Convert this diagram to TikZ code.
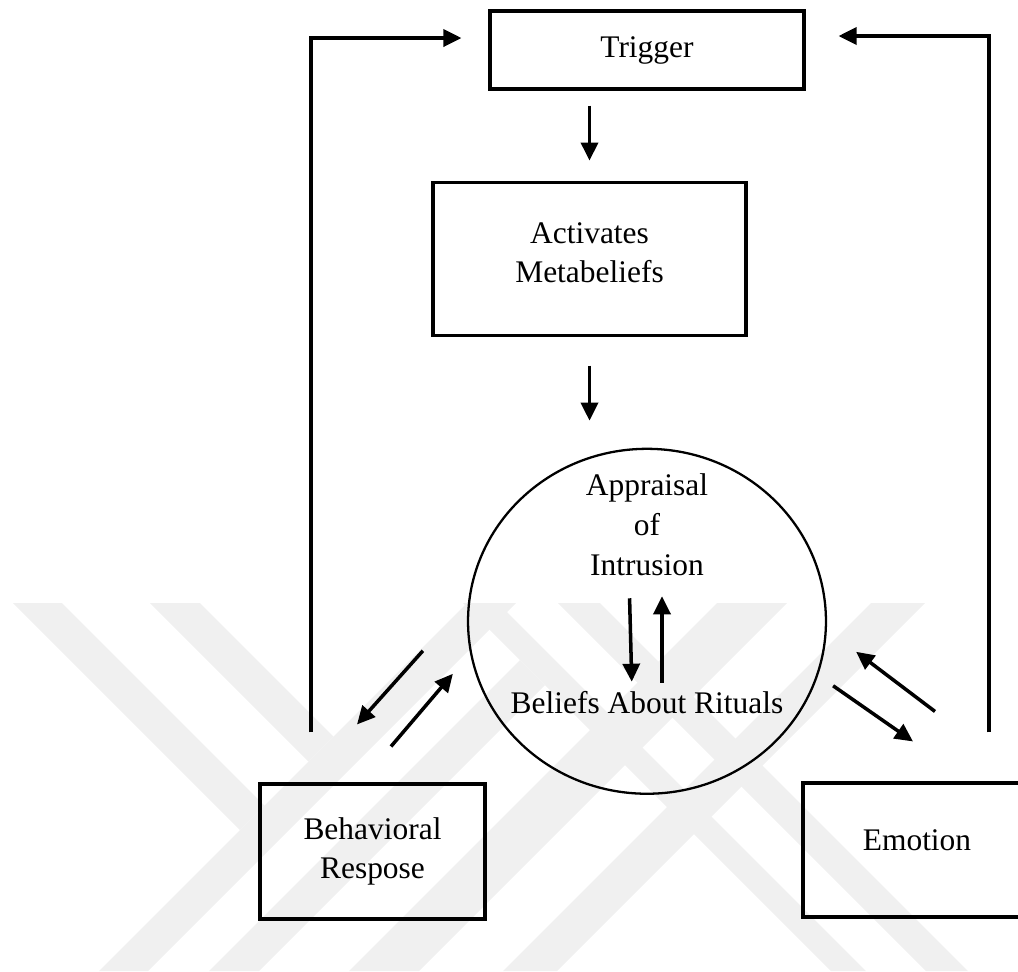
\documentclass[tikz,border=0pt]{standalone}
\usepackage{fontspec}
\setmainfont{Liberation Serif}
\usepackage{tikz}
\usetikzlibrary{shapes.geometric, arrows, arrows.meta, positioning, calc}

\begin{document}
\begin{tikzpicture}[
      x=0.02cm, y=-0.02cm,
      block/.style={rectangle, draw, line width=1.8pt, align=center, font=\fontsize{17.9}{22.5}\selectfont},
      oval/.style ={ellipse, draw, line width=1.3pt, minimum width=7.16cm, minimum height=6.9cm, inner sep=0pt},
      txt/.style  ={inner sep=0pt, align=center, font=\fontsize{17.9}{22.8}\selectfont},
      arr/.style  ={-{Triangle[length=0.36cm, width=0.34cm]}, line width=2pt},
      wm/.style   ={fill=black!6},
      >=Stealth
    ]

    \useasboundingbox (0,0) rectangle (1018,971);
    \clip (0,0) rectangle (1018,971);

    % Watermark stripes
    \begin{scope}
      \clip (0,603) rectangle (1018,971);
      \fill[wm] (13,603) -- (62,603) -- (264.5,805.5) -- (240,830) -- cycle;
      \fill[wm] (150,603) -- (200,603) -- (333.5,736.5) -- (308.5,761.5) -- cycle;
      \fill[wm] (467,603) -- (516,603) -- (148,971) -- (99,971) -- cycle;
      \fill[wm] (209,971) -- (259,971) -- (545,685) -- (520,660) -- cycle;
      \fill[wm] (717,603) -- (787,603) -- (419,971) -- (349,971) -- cycle;
      \fill[wm] (871,603) -- (925,603) -- (557,971) -- (503,971) -- cycle;
      \fill[wm] (558,603) -- (600,603) -- (968,971) -- (926,971) -- cycle;
      \fill[wm] (463,603) -- (498,603) -- (866,971) -- (831,971) -- cycle;
    \end{scope}

    % Main chain
    \node[block, minimum width=6.28cm, minimum height=1.56cm] (trig) at (647,50) {Trigger};
    \node[block, minimum width=6.26cm, minimum height=3.06cm, text depth=0.24cm, below=1.8cm of trig, xshift=-1.15cm] (act) {Activates\\Metabeliefs};
    \node[oval, below=2.22cm of act, xshift=1.15cm] (appr) {};

    % Text inside the oval
    \node[txt] (apptxt) at ([yshift=1.93cm]appr.center) {Appraisal\\of\\Intrusion};
    \node[txt] (rit)    at ([yshift=-1.63cm]appr.center) {Beliefs About Rituals};

    % Bottom boxes
    \node[block, minimum width=4.5cm,  minimum height=2.7cm]  (beh) at (372.5,851.5) {Behavioral\\Respose};
    \node[block, minimum width=4.56cm, minimum height=2.68cm, text depth=0.39cm] (emo) at (917,850) {Emotion};

    \coordinate (behup) at ([xshift=-1.23cm, yshift=1cm]beh.north);
    \coordinate (emoup) at ([xshift=1.44cm, yshift=0.98cm]emo.north);

    % Downward arrows
    \draw[arr, shorten <=0.3cm,  shorten >=0.4cm]  (trig.south -| act.north) -- (act.north);
    \draw[arr, shorten <=0.58cm, shorten >=0.54cm] (act.south) -- (act.south |- appr.north);
    \draw[arr, shorten <=0.44cm, shorten >=0.19cm] ([xshift=-0.36cm]apptxt.south) -- ([xshift=-0.3cm]rit.north);
    \draw[arr, shorten <=0.17cm, shorten >=0.4cm]  ([xshift=0.3cm]rit.north) -- ([xshift=0.3cm]apptxt.south);

    % Arrows between oval and bottom boxes
    \draw[arr] ([xshift=-0.88cm, yshift=-0.59cm]appr.west) -- ([xshift=-0.31cm, yshift=1.16cm]beh.north);
    \draw[arr] ([xshift=0.37cm, yshift=0.72cm]beh.north) -- ([xshift=-0.28cm, yshift=-1.05cm]appr.west);
    \draw[arr] ([xshift=0.12cm, yshift=-1.29cm]appr.east) -- ([xshift=-0.08cm, yshift=0.8cm]emo.north);
    \draw[arr] ([xshift=0.36cm, yshift=1.4cm]emo.north) -- ([xshift=0.58cm, yshift=-0.61cm]appr.east);

    % Feedback loops to the trigger
    \draw[arr] (behup) |- ([xshift=-0.54cm, yshift=0.24cm]trig.west);
    \draw[arr] (emoup) |- ([xshift=0.66cm, yshift=0.28cm]trig.east);

  \end{tikzpicture}
\end{document}
